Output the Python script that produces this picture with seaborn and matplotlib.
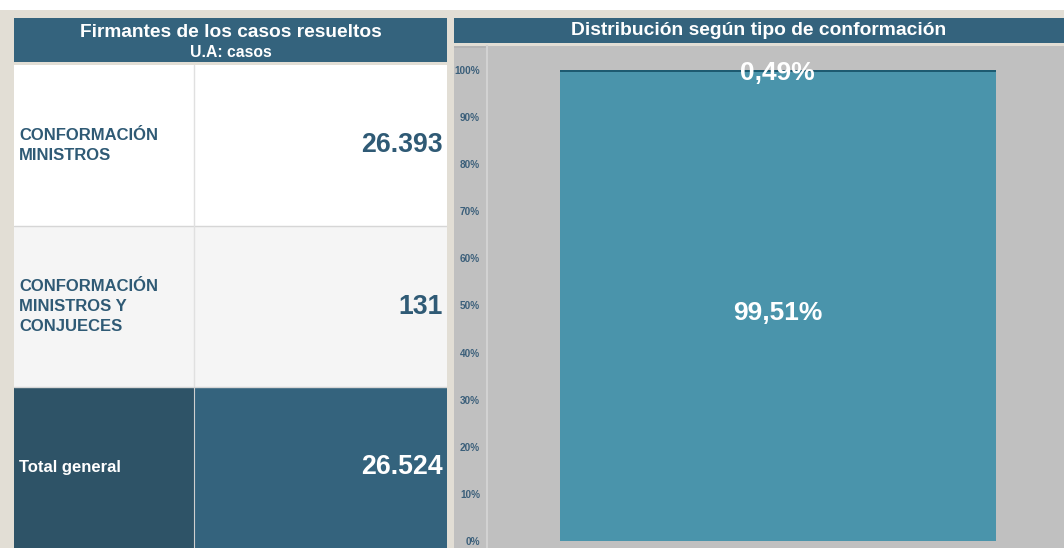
import matplotlib
matplotlib.use("Agg")
import matplotlib.pyplot as plt
from matplotlib.patches import Rectangle
import seaborn as sns
import pandas as pd

# datos de la tabla
categorias = ["CONFORMACIÓN\nMINISTROS", "CONFORMACIÓN\nMINISTROS Y\nCONJUECES", "Total general"]
casos = ["26.393", "131", "26.524"]

# distribucion porcentual
tipos = ["Ministros y conjueces", "Ministros"]
porcentajes = [0.49, 99.51]
etiquetas_pct = ["0,49%", "99,51%"]
ticks_y = [0, 10, 20, 30, 40, 50, 60, 70, 80, 90, 100]

AZUL = "#34637d"
AZUL_OSC = "#2e5367"
TEXTO = "#2f5a75"
TEAL = "#4a94ab"
TEAL_OSC = "#1d5a70"
GRIS = "#c0c0c0"
BEIGE = "#e2ded5"

sns.set_style("white")
plt.rcParams["font.family"] = ["Liberation Sans", "DejaVu Sans"]

W, H = 1064, 548
fig = plt.figure(figsize=(W / 100, H / 100), dpi=100)
fig.patch.set_facecolor(BEIGE)


def box(x0, y0, x1, y1):
    # convierte pixeles (desde arriba) a fracciones de figura
    return [x0 / W, 1 - y1 / H, (x1 - x0) / W, (y1 - y0) / H]


# franja blanca superior
fig.patches.append(Rectangle((0, 1 - 10 / H), 1, 10 / H, transform=fig.transFigure,
                             facecolor="white", edgecolor="none", zorder=-2))

# ---- encabezado izquierdo
ax_h1 = fig.add_axes(box(14, 18, 447, 62))
ax_h1.set_facecolor(AZUL)
ax_h1.set_xticks([]); ax_h1.set_yticks([])
for s in ax_h1.spines.values():
    s.set_visible(False)
ax_h1.text(0.5, 0.67, "Firmantes de los casos resueltos", ha="center", va="center",
           color="white", fontsize=13.8, fontweight="bold", transform=ax_h1.transAxes)
ax_h1.text(0.5, 0.21, "U.A: casos", ha="center", va="center",
           color="white", fontsize=11.3, fontweight="bold", transform=ax_h1.transAxes)

# ---- tabla
ax_t = fig.add_axes(box(14, 65, 447, 548))
ax_t.set_xlim(0, 433)
ax_t.set_ylim(len(categorias), 0)
ax_t.axis("off")
fondos = [("white", "white"), ("#f5f5f5", "#f5f5f5"), (AZUL_OSC, AZUL)]
col_txt = [TEXTO, TEXTO, "white"]
for i, (cat, val) in enumerate(zip(categorias, casos)):
    f1, f2 = fondos[i]
    ax_t.add_patch(Rectangle((0, i), 180, 1, facecolor=f1, edgecolor="none"))
    ax_t.add_patch(Rectangle((180, i), 253, 1, facecolor=f2, edgecolor="none"))
    ax_t.text(5, i + 0.5, cat, ha="left", va="center", color=col_txt[i],
              fontsize=12, fontweight="bold", linespacing=1.38)
    ax_t.text(429, i + 0.5, val, ha="right", va="center", color=col_txt[i],
              fontsize=19.2, fontweight="bold")
for i in range(1, len(categorias)):
    ax_t.axhline(i, color="#d6d6d6", lw=1)
ax_t.axvline(180, ymin=1 / 3, color="#e0e0e0", lw=1)
ax_t.axvline(180, ymax=1 / 3, color="#cfcfcf", lw=0.8)

# ---- encabezado derecho
ax_h2 = fig.add_axes(box(454, 18, 1064, 43))
ax_h2.set_facecolor(AZUL)
ax_h2.set_xticks([]); ax_h2.set_yticks([])
for s in ax_h2.spines.values():
    s.set_visible(False)
ax_h2.text(0.5, 0.5, "Distribución según tipo de conformación", ha="center", va="center",
           color="white", fontsize=13.9, fontweight="bold", transform=ax_h2.transAxes)

# franja de etiquetas del eje
fig.patches.append(Rectangle((454 / W, 0), 33 / W, 1 - 46 / H, transform=fig.transFigure,
                             facecolor=GRIS, edgecolor="none", zorder=-1))
fig.patches.append(Rectangle((454 / W, 1 - 48 / H), 33 / W, 2 / H, transform=fig.transFigure,
                             facecolor="#b4b4b4", edgecolor="none", zorder=-1))

# ---- grafico de barras apiladas
ax = fig.add_axes(box(487, 46, 1064, 548))
ax.set_facecolor(GRIS)
df = pd.DataFrame({"grupo": ["Total"], "acum": [sum(porcentajes)], "base": [porcentajes[1]]})
sns.barplot(data=df, x="grupo", y="acum", color=TEAL_OSC, saturation=1, width=0.6,
            linewidth=0, edgecolor="none", ax=ax)
sns.barplot(data=df, x="grupo", y="base", color=TEAL, saturation=1, width=0.6,
            linewidth=0, edgecolor="none", ax=ax)
ax.set_xlim(-0.4, 0.394)
ax.set_ylim(-1.5, 105.1)
ax.set_xlabel(""); ax.set_ylabel("")
ax.set_xticks([])
ax.set_yticks(ticks_y)
ax.set_yticklabels([f"{t}%" for t in ticks_y])
ax.tick_params(axis="y", length=3, width=0.6, color="#d8d8d8", labelsize=7.2,
               labelcolor="#3b5f7a", pad=2)
for lbl in ax.get_yticklabels():
    lbl.set_fontweight("bold")
for s in ["top", "right", "bottom"]:
    ax.spines[s].set_visible(False)
ax.spines["left"].set_color("#d2d2d2")
ax.spines["left"].set_linewidth(1.5)

ax.text(0, 48.5, etiquetas_pct[1], ha="center", va="center",
        color="white", fontsize=19, fontweight="bold")
ax.text(0, 99.3, etiquetas_pct[0], ha="center", va="center",
        color="white", fontsize=19, fontweight="bold")

fig.savefig("out.png", dpi=100, facecolor=fig.get_facecolor())
